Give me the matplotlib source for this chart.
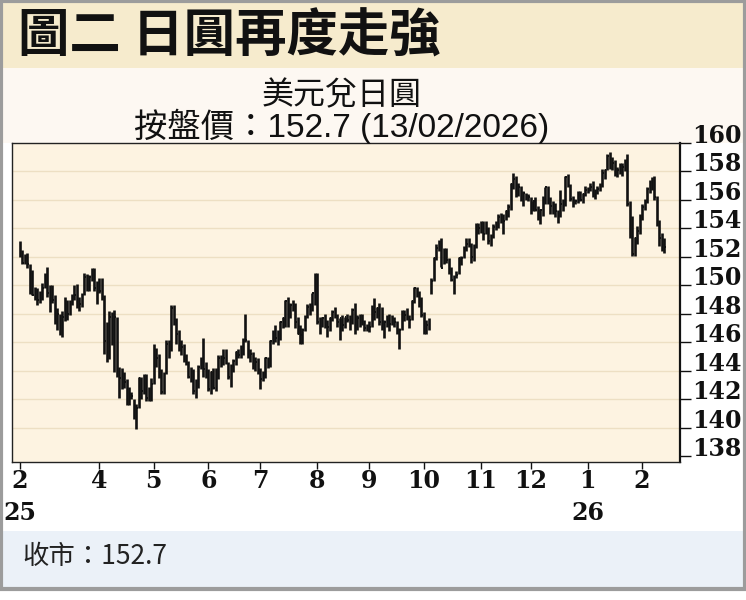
import numpy as np
import pandas as pd
import matplotlib
matplotlib.use("Agg")
import matplotlib.pyplot as plt
from matplotlib.patches import Rectangle

# ── USD/JPY daily bars, 14/02/2025 - 13/02/2026 (business days) ─────────────
highs = [
    # Feb 2025
    153.1, 152.5, 152.2, 152.3, 151.5, 151.1, 149.9, 149.8, 149.6, 150.2, 150.9,
    # Mar
    151.3, 150.0, 150.0, 149.3, 148.4, 148.0, 148.2, 149.2, 149.0, 149.0, 149.4,
    150.0, 150.1, 149.2, 149.5, 150.9, 150.8, 150.7, 151.2, 151.2, 150.3,
    # Apr
    150.5, 150.5, 149.3, 147.4, 148.2, 148.1, 148.3, 147.8, 144.3, 144.2, 143.9,
    143.4, 142.9, 142.5, 142.0, 141.7, 143.6, 143.6, 143.8, 143.8, 142.9, 143.5,
    # May
    145.9, 145.6, 145.2, 144.1, 143.9, 146.2, 146.2, 148.6, 148.6, 147.7, 146.9,
    146.2, 145.9, 145.2, 144.7, 144.3, 144.1, 143.4, 144.4, 145.0, 146.3, 144.6,
    # Jun
    144.1, 144.0, 144.2, 144.2, 145.1, 145.1, 145.5, 145.5, 144.6, 144.5, 144.8,
    145.4, 145.5, 145.8, 146.3, 148.0, 146.2, 145.5, 145.3, 145.0, 144.9,
    # Jul
    144.2, 144.0, 145.0, 145.0, 146.2, 146.9, 147.2, 146.9, 147.5, 147.8, 149.0,
    149.2, 148.8, 149.0, 148.8, 147.8, 147.2, 147.0, 147.9, 148.7, 148.8, 149.5,
    150.9,
    # Aug
    150.9, 147.8, 147.8, 148.0, 147.6, 147.8, 148.3, 148.5, 148.0, 147.7, 147.9,
    147.8, 148.0, 147.9, 148.4, 148.8, 147.9, 148.0, 148.0, 147.6, 147.3,
    # Sep
    147.5, 148.6, 149.1, 148.5, 148.8, 148.5, 147.6, 147.9, 148.0, 147.9, 147.8,
    147.5, 147.0, 148.3, 148.3, 148.4, 147.9, 149.0, 149.9, 149.9, 149.6, 149.2,
    # Oct
    148.1, 147.6, 147.7, 150.5, 152.0, 152.9, 153.2, 153.3, 152.6, 152.6, 151.9,
    151.3, 150.7, 151.0, 152.0, 152.1, 152.8, 153.3, 153.3, 153.0, 152.9, 154.4,
    154.4,
    # Nov
    154.5, 154.5, 154.5, 154.1, 153.6, 154.3, 154.5, 155.0, 155.1, 155.0, 155.3,
    155.7, 157.2, 157.9, 157.7, 157.2, 157.0, 156.6, 156.5, 156.4,
    # Dec
    156.2, 155.9, 156.2, 155.6, 155.4, 156.3, 156.9, 157.0, 156.2, 155.9, 155.8,
    155.3, 156.7, 156.1, 157.7, 157.8, 157.1, 156.3, 156.1, 156.6, 156.6, 156.5,
    157.0,
    # Jan 2026
    156.9, 157.2, 157.3, 156.8, 157.0, 157.2, 158.2, 158.2, 159.2, 159.4, 159.0,
    158.8, 158.3, 158.6, 158.6, 158.9, 159.2, 155.9, 154.9, 153.4, 154.2, 155.0,
    # Feb 2026
    155.7, 156.1, 156.9, 157.4, 157.6, 157.7, 156.3, 154.6, 153.7, 153.3,
]
lows = [
    # Feb 2025
    152.0, 151.5, 151.5, 151.2, 149.4, 149.3, 149.0, 148.6, 148.8, 149.0, 149.8,
    # Mar
    149.2, 148.1, 148.8, 147.3, 146.9, 146.5, 146.4, 147.5, 147.6, 147.9, 148.6,
    149.0, 148.4, 148.2, 148.5, 149.3, 149.6, 149.6, 150.3, 149.6, 148.7,
    # Apr
    149.5, 149.0, 145.2, 144.6, 144.8, 145.8, 143.9, 143.6, 142.1, 142.7, 142.8,
    141.6, 141.6, 142.0, 140.6, 139.9, 141.4, 142.0, 142.4, 141.9, 141.9, 141.9,
    # May
    143.1, 144.3, 143.5, 142.4, 142.4, 143.8, 144.9, 145.4, 147.2, 145.9, 145.4,
    145.1, 144.6, 144.4, 143.5, 143.2, 142.4, 142.1, 142.8, 144.1, 143.6, 143.5,
    # Jun
    142.6, 142.4, 142.7, 142.6, 143.4, 144.3, 144.4, 144.5, 143.4, 142.9, 143.9,
    144.4, 144.9, 144.9, 145.1, 146.0, 144.9, 144.6, 144.1, 144.0, 143.8,
    # Jul
    142.7, 143.3, 143.5, 144.2, 144.3, 145.9, 146.0, 145.8, 146.2, 147.0, 147.1,
    147.1, 147.7, 148.2, 147.0, 146.6, 145.9, 145.9, 146.8, 147.7, 147.9, 148.2,
    148.6,
    # Aug
    147.3, 146.6, 147.1, 147.0, 146.4, 146.8, 147.5, 147.7, 147.1, 146.2, 146.8,
    147.0, 147.4, 146.9, 147.3, 146.6, 146.9, 147.1, 147.2, 146.8, 146.8,
    # Sep
    146.7, 147.1, 147.6, 147.7, 147.2, 146.9, 146.3, 147.1, 146.8, 147.2, 147.1,
    146.6, 145.5, 146.9, 147.5, 147.6, 147.0, 147.6, 148.8, 149.2, 148.5, 147.8,
    # Oct
    146.6, 146.6, 146.9, 149.4, 150.3, 151.8, 152.4, 151.3, 151.5, 151.6, 150.8,
    150.3, 149.4, 150.5, 150.8, 151.4, 151.9, 152.4, 152.7, 151.6, 151.7, 152.6,
    153.6,
    # Nov
    153.7, 153.2, 153.6, 152.9, 152.8, 153.3, 153.9, 154.0, 154.4, 153.6, 154.6,
    154.8, 155.3, 156.8, 156.2, 156.3, 155.9, 155.6, 156.0, 155.9,
    # Dec
    155.0, 155.2, 155.2, 154.6, 154.3, 154.9, 155.7, 155.7, 155.0, 155.0, 154.8,
    154.4, 154.8, 155.2, 155.6, 156.9, 155.9, 155.5, 155.7, 155.8, 155.9, 155.8,
    156.3,
    # Jan 2026
    156.5, 156.6, 156.2, 156.1, 156.4, 156.6, 156.9, 157.5, 158.1, 158.2, 158.1,
    157.7, 157.6, 157.8, 157.7, 158.0, 155.6, 153.3, 152.1, 152.1, 152.9, 153.6,
    # Feb 2026
    154.6, 155.3, 155.8, 156.5, 156.7, 156.0, 154.2, 152.8, 152.4, 152.3,
]
closes = [
    # Feb 2025
    152.3, 151.6, 152.0, 151.5, 149.6, 149.3, 149.7, 149.0, 149.1, 149.8, 150.6,
    # Mar
    149.5, 149.1, 149.0, 147.9, 148.0, 147.2, 147.8, 149.0, 148.0, 148.6, 149.2,
    149.3, 148.7, 148.7, 149.3, 150.6, 149.9, 150.6, 151.0, 149.8, 149.9,
    # Apr
    149.6, 149.2, 146.1, 146.9, 147.8, 146.3, 147.8, 144.5, 143.5, 143.1, 143.2,
    141.7, 142.5, 142.2, 140.9, 141.4, 143.5, 142.6, 143.6, 142.1, 142.3, 143.1,
    # May
    145.4, 144.9, 143.7, 142.5, 143.8, 145.9, 145.4, 148.4, 147.5, 146.6, 145.6,
    145.7, 144.8, 144.5, 143.6, 144.0, 142.6, 142.8, 144.3, 144.8, 144.1, 144.0,
    # Jun
    142.7, 143.9, 142.8, 143.5, 144.9, 144.6, 144.9, 144.6, 143.6, 144.1, 144.7,
    145.3, 145.1, 145.5, 146.1, 146.2, 145.0, 145.2, 144.4, 144.6, 144.0,
    # Jul
    143.4, 143.6, 144.9, 144.5, 146.1, 146.6, 146.3, 146.3, 147.4, 147.7, 148.9,
    147.9, 148.6, 148.5, 147.4, 146.6, 146.5, 146.9, 147.7, 148.5, 148.5, 149.5,
    150.7,
    # Aug
    147.4, 147.1, 147.7, 147.3, 147.1, 147.7, 148.1, 147.8, 147.4, 147.7, 147.2,
    147.8, 147.6, 147.3, 148.3, 146.9, 147.7, 147.4, 147.5, 147.0, 147.0,
    # Sep
    147.1, 148.4, 148.1, 148.4, 147.4, 147.5, 147.4, 147.4, 147.3, 147.7, 147.4,
    146.7, 146.9, 148.0, 147.9, 147.7, 147.6, 148.9, 149.8, 149.5, 148.6, 147.9,
    # Oct
    147.1, 147.2, 147.5, 150.3, 151.9, 152.6, 153.0, 151.2, 152.3, 151.8, 151.0,
    150.4, 150.6, 150.7, 151.9, 151.9, 152.6, 152.9, 152.9, 152.0, 152.7, 154.1,
    154.0,
    # Nov
    154.2, 153.6, 154.1, 153.1, 153.4, 154.1, 154.1, 154.8, 154.6, 154.5, 155.2,
    155.5, 157.1, 157.5, 156.4, 156.9, 156.0, 156.5, 156.3, 156.2,
    # Dec
    155.4, 155.9, 155.3, 155.1, 155.3, 155.9, 156.9, 155.9, 155.6, 155.8, 155.2,
    154.8, 155.7, 155.6, 157.6, 157.0, 156.1, 155.9, 155.9, 156.5, 156.0, 156.4,
    156.7,
    # Jan 2026
    156.7, 156.9, 156.4, 156.6, 156.8, 156.9, 157.9, 158.1, 159.1, 158.6, 158.6,
    158.1, 158.1, 158.2, 158.3, 158.4, 155.7, 154.2, 152.2, 153.3, 153.8, 154.8,
    # Feb 2026
    155.5, 155.8, 156.8, 157.1, 157.2, 156.2, 154.4, 153.3, 153.0, 152.7,
]

y_ticks = list(range(138, 161, 2))
title = "圖二 日圓再度走強"
subtitle1 = "美元兌日圓"
subtitle2 = "按盤價：152.7 (13/02/2026)"
footer = "收市：152.7"

dates = pd.bdate_range("2025-02-14", "2026-02-13")
assert len(dates) == len(highs) == len(lows) == len(closes)
x = np.arange(len(dates))

# month ticks (March skipped, too close to the first label)
tick_pos, tick_lab = [], []
for i, d in enumerate(dates):
    if i == 0 or d.month != dates[i - 1].month:
        if d.month == 3:
            continue
        lab = str(d.month)
        if i == 0 or d.month == 1:
            lab += "\n" + str(d.year)[2:]
        tick_pos.append(i)
        tick_lab.append(lab)

W, H = 746, 600
fig = plt.figure(figsize=(W / 100, H / 100), dpi=100)
fig.patch.set_facecolor("white")


def fy(py):
    return 1 - py / H


# ── background bands ────────────────────────────────────────────────────────
fig.patches.append(Rectangle((0, fy(68)), 1, 68 / H, transform=fig.transFigure,
                             facecolor="#f6ebcd", edgecolor="none", zorder=-2))
fig.patches.append(Rectangle((0, fy(143)), 1, 75 / H, transform=fig.transFigure,
                             facecolor="#fdf8f2", edgecolor="none", zorder=-2))
fig.patches.append(Rectangle((0, fy(588)), 1, 57 / H, transform=fig.transFigure,
                             facecolor="#ebf1f8", edgecolor="none", zorder=-2))
fig.patches.append(Rectangle((0.002, fy(589)), 0.996, 588 / H, transform=fig.transFigure,
                             fill=False, edgecolor="#9c9c9c", linewidth=3, zorder=-1))

# ── plot area ───────────────────────────────────────────────────────────────
ax = fig.add_axes([12 / W, fy(462), (680 - 12) / W, (462 - 143) / H])
ax.set_facecolor("#fdf3e1")
for v in y_ticks[1:-1]:
    ax.axhline(v, color="#eddfc3", linewidth=1, zorder=0)

ax.vlines(x, lows, highs, color="#111111", linewidth=1.9, zorder=3)
ax.hlines(closes, x, x + 0.6, color="#111111", linewidth=1.4, zorder=3)

ax.set_xlim(-3.2, 266.3)
ax.set_ylim(137.6, 160.0)

for s in ["left", "top", "bottom"]:
    ax.spines[s].set_linewidth(1)
    ax.spines[s].set_color("#222222")
ax.spines["right"].set_linewidth(1.6)
ax.spines["right"].set_color("#111111")

tick_font = dict(family="DejaVu Serif", weight="bold", size=17)

ax.yaxis.tick_right()
ax.set_yticks(y_ticks)
ax.set_yticklabels([str(v) for v in y_ticks], fontdict=tick_font)
ax.tick_params(axis="y", direction="out", length=8, width=1, pad=1, colors="#111111")
for lbl in ax.get_yticklabels():
    lbl.set_verticalalignment("baseline")

ax.set_xticks(tick_pos)
ax.set_xticklabels(tick_lab, fontdict=tick_font, linespacing=1.45)
ax.tick_params(axis="x", direction="out", length=5, width=1, pad=0, colors="#111111")

# ── texts ───────────────────────────────────────────────────────────────────
fig.text(18 / W, fy(36), title, fontsize=37, fontweight="bold",
         family=["Noto Sans CJK TC", "DejaVu Sans"], va="center", ha="left", color="#111111")
fig.text(342 / W, fy(95), subtitle1, fontsize=23,
         family=["Noto Sans CJK TC"], va="center", ha="center", color="#111111")
fig.text(342 / W, fy(126), subtitle2, fontsize=24,
         family=["Liberation Sans", "Noto Sans CJK TC"], va="center", ha="center", color="#111111")
fig.text(22 / W, fy(557), footer, fontsize=19,
         family=["Noto Sans CJK TC"], va="center", ha="left", color="#222222")

plt.savefig("out.png", dpi=100)
plt.close()
